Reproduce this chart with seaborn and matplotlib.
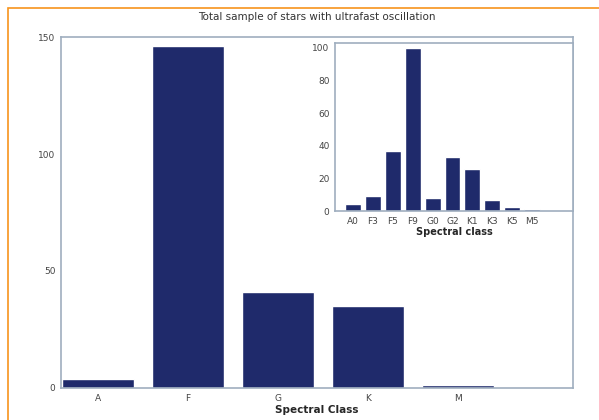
import matplotlib
matplotlib.use("Agg")
import matplotlib.pyplot as plt
import seaborn as sns
import pandas as pd
from matplotlib.patches import Rectangle

# main panel: spectral class totals
main_classes = ["A", "F", "G", "K", "M"]
main_counts = [4, 146, 41, 35, 1.2]

# inset: spectral subclasses
sub_classes = ["A0", "F3", "F5", "F9", "G0", "G2", "K1", "K3", "K5", "M5"]
sub_counts = [4, 9, 37, 100, 8, 33, 26, 7, 2.5, 1.5]

bar_color = "#1F2A6B"
spine_color = "#9FAEBF"
tick_color = "#444444"

sns.set_theme(style="white")
plt.rcParams["font.family"] = ["DejaVu Sans"]

fig = plt.figure(figsize=(5.99, 4.2), dpi=100)

# orange frame around the figure
fig.patches.append(Rectangle((8 / 599, -0.1), 1.2, (1 - 8 / 420) + 0.1,
                             transform=fig.transFigure, fill=False,
                             edgecolor="#F7941D", linewidth=1.2))

ax = fig.add_axes([0.1018, 0.0762, 0.8548, 0.8357])
main_df = pd.DataFrame({"cls": main_classes, "n": main_counts})
sns.barplot(data=main_df, x="cls", y="n", ax=ax, color=bar_color,
            saturation=1, width=0.8)
ax.set_xlim(-0.41, 5.28)
ax.set_ylim(0, 150)
ax.set_yticks([0, 50, 100, 150])
ax.set_xlabel("Spectral Class", fontsize=7.5, fontweight="bold", labelpad=2)
ax.set_ylabel("")
ax.set_title("Total sample of stars with ultrafast oscillation", fontsize=7.5,
             pad=12, color="#333333")
ax.tick_params(labelsize=6.5, colors=tick_color, length=2, pad=2)

# inset
ins = fig.add_axes([0.5593, 0.4976, 0.3973, 0.40])
sub_df = pd.DataFrame({"cls": sub_classes, "n": sub_counts})
sns.barplot(data=sub_df, x="cls", y="n", ax=ins, color=bar_color,
            saturation=1, width=0.8)
ins.set_xlim(-0.9, 11.05)
ins.set_ylim(0, 103)
ins.set_yticks([0, 20, 40, 60, 80, 100])
ins.set_xlabel("Spectral class", fontsize=7, fontweight="bold", labelpad=1)
ins.set_ylabel("")
ins.tick_params(labelsize=6.5, colors=tick_color, length=2, pad=2)

for a in (ax, ins):
    for s in a.spines.values():
        s.set_color(spine_color)
        s.set_linewidth(1.2)

fig.savefig("out.png", dpi=100)
